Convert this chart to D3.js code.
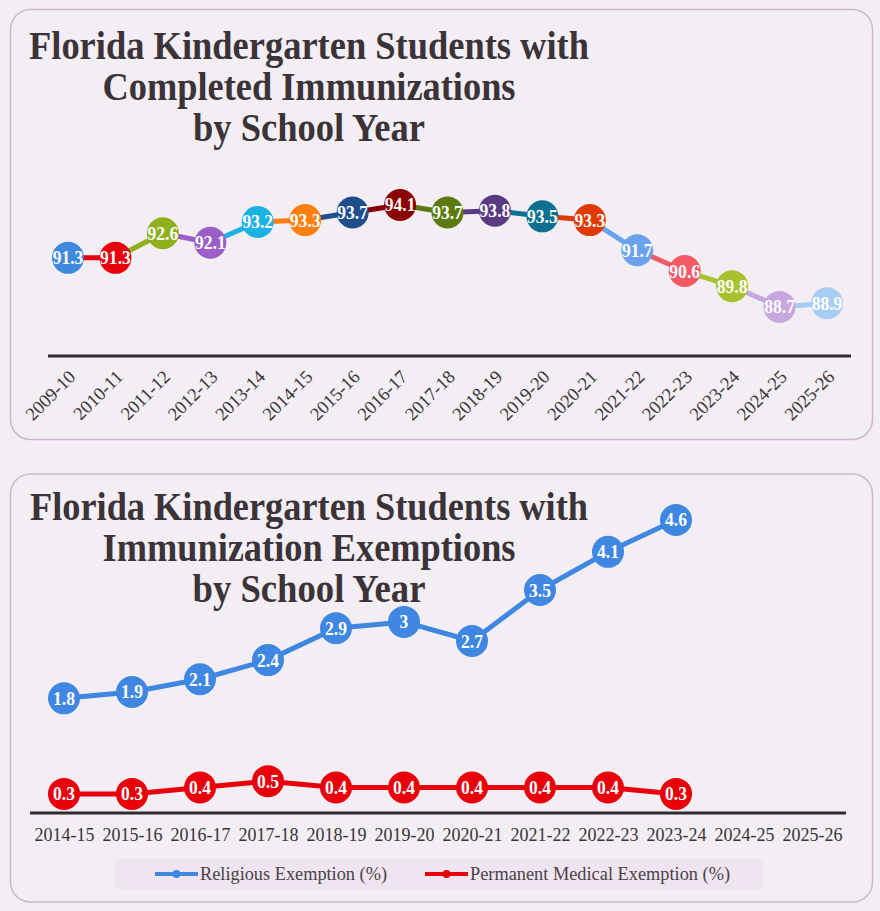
<!DOCTYPE html>
<html>
<head>
<meta charset="utf-8">
<script src="https://cdn.jsdelivr.net/npm/d3@7"></script>
<style>
  body { margin: 0; background: #f3eef3; }
  svg { display: block; }
  text { font-family: "Liberation Serif", "Times New Roman", serif; }
</style>
</head>
<body>
<div id="chart"></div>
<script>
/**********************/
/******* data         */
/**********************/

const yearsCompleted = ["2009-10", "2010-11", "2011-12", "2012-13", "2013-14", "2014-15",
    "2015-16", "2016-17", "2017-18", "2018-19", "2019-20", "2020-21", "2021-22",
    "2022-23", "2023-24", "2024-25", "2025-26"];
const completedPct = [91.3, 91.3, 92.6, 92.1, 93.2, 93.3, 93.7, 94.1, 93.7, 93.8, 93.5,
    93.3, 91.7, 90.6, 89.8, 88.7, 88.9];
const completedColors = ["#3f88e0", "#e8000b", "#8fb01c", "#9a5fc9", "#1cb2e4", "#ff7f0e",
    "#1f4e8c", "#8b0000", "#5b7a10", "#5a3a82", "#0d7090", "#e03a00", "#6aa2ec",
    "#f25a66", "#a8c22e", "#c8a6e0", "#a8cdf2"];

const yearsExempt = ["2014-15", "2015-16", "2016-17", "2017-18", "2018-19", "2019-20",
    "2020-21", "2021-22", "2022-23", "2023-24", "2024-25", "2025-26"];
const religiousPct = [1.8, 1.9, 2.1, 2.4, 2.9, 3, 2.7, 3.5, 4.1, 4.6];
const medicalPct = [0.3, 0.3, 0.4, 0.5, 0.4, 0.4, 0.4, 0.4, 0.4, 0.3];
const seriesNames = ["Religious Exemption (%)", "Permanent Medical Exemption (%)"];
const seriesColors = ["#3f87e0", "#e8000b"];

const titleTop = ["Florida Kindergarten Students with", "Completed Immunizations", "by School Year"];
const titleBottom = ["Florida Kindergarten Students with", "Immunization Exemptions", "by School Year"];

/**********************/
/******* d3           */
/**********************/

const W = 880, H = 911;
const textColor = "#3b3338";
const serif = "'Liberation Serif', 'Times New Roman', serif";

const svg = d3.select("#chart").append("svg")
    .attr("width", W)
    .attr("height", H);

svg.append("rect").attr("width", W).attr("height", H).attr("fill", "#f3eef3");

// panels
[[9.5, 430], [474, 428]].forEach(([y, h]) => {
    svg.append("rect")
        .attr("x", 10.5).attr("y", y)
        .attr("width", 862).attr("height", h)
        .attr("rx", 20)
        .attr("fill", "#f3eef4")
        .attr("stroke", "#cdb7ce")
        .attr("stroke-width", 1.5);
});

function drawTitle(lines, baseY, widths) {
    svg.append("g").selectAll("text")
        .data(lines)
        .enter()
        .append("text")
        .attr("x", 309)
        .attr("y", (d, i) => baseY + i * 41)
        .attr("text-anchor", "middle")
        .attr("textLength", (d, i) => widths[i])
        .attr("lengthAdjust", "spacingAndGlyphs")
        .style("font-family", serif)
        .style("font-size", "40px")
        .style("font-weight", "bold")
        .style("fill", textColor)
        .text(d => d);
}

drawTitle(titleTop, 59, [560, 413, 232]);
drawTitle(titleBottom, 520, [558, 413, 233]);

// compressed white labels inside circles
function pointLabels(g, data, x, y, fmt) {
    g.append("g").selectAll("text")
        .data(data)
        .enter()
        .append("text")
        .attr("transform", d => `translate(${x(d)}, ${y(d) + 6.5}) scale(0.9, 1)`)
        .attr("text-anchor", "middle")
        .style("font-family", serif)
        .style("font-size", "19.5px")
        .style("font-weight", "bold")
        .style("fill", "#fff")
        .text(fmt);
}

/******* top chart    */

function makeChartCompleted() {
    const g = svg.append("g").attr("class", "chart");
    const data = yearsCompleted.map((yr, i) => ({ yr: yr, v: completedPct[i], c: completedColors[i] }));

    const x = d3.scalePoint()
        .domain(yearsCompleted)
        .range([68, 827]);

    const y = d3.scaleLinear()
        .domain([87, 95])
        .range([339, 188]);

    g.append("line")
        .attr("x1", 48).attr("x2", 851)
        .attr("y1", 356).attr("y2", 356)
        .attr("stroke", "#2f2a2e")
        .attr("stroke-width", 3);

    const axis = g.append("g")
        .attr("transform", "translate(0, 356)")
        .call(d3.axisBottom(x).tickSize(0).tickPadding(0));
    axis.select(".domain").remove();
    axis.selectAll("text")
        .attr("text-anchor", "end")
        .attr("dy", null)
        .attr("y", 0)
        .attr("transform", "translate(8, 22) rotate(-45)")
        .style("font-family", serif)
        .style("font-size", "18.5px")
        .style("fill", textColor);

    // each segment takes the colour of the point it runs into
    g.selectAll(".seg")
        .data(data.slice(1))
        .enter()
        .append("line")
        .attr("class", "seg")
        .attr("x1", (d, i) => x(data[i].yr))
        .attr("y1", (d, i) => y(data[i].v))
        .attr("x2", d => x(d.yr))
        .attr("y2", d => y(d.v))
        .attr("stroke", d => d.c)
        .attr("stroke-width", 5);

    g.selectAll(".dot")
        .data(data)
        .enter()
        .append("circle")
        .attr("class", "dot")
        .attr("cx", d => x(d.yr))
        .attr("cy", d => y(d.v))
        .attr("r", 16)
        .attr("fill", d => d.c);

    pointLabels(g, data, d => x(d.yr), d => y(d.v), d => d.v.toFixed(1));
}

/******* bottom chart */

function makeChartExempt() {
    const g = svg.append("g").attr("class", "chart");

    const x = d3.scalePoint()
        .domain(yearsExempt)
        .range([64, 812]);

    const y = d3.scaleLinear()
        .domain([0, 5])
        .range([813, 494.5]);

    const axis = g.append("g")
        .attr("transform", "translate(0, 813)")
        .call(d3.axisBottom(x).tickSize(0).tickPadding(0));
    axis.select(".domain").remove();
    axis.selectAll("text")
        .attr("dy", null)
        .attr("y", 28)
        .style("font-family", serif)
        .style("font-size", "18px")
        .style("fill", textColor);

    g.append("line")
        .attr("x1", 30).attr("x2", 846)
        .attr("y1", 813).attr("y2", 813)
        .attr("stroke", "#2f2a2e")
        .attr("stroke-width", 3);

    const line = d3.line()
        .x(d => x(d.yr))
        .y(d => y(d.v));

    [religiousPct, medicalPct].forEach((vals, s) => {
        const data = vals.map((v, i) => ({ yr: yearsExempt[i], v: v }));
        const sg = g.append("g").attr("class", "series");
        sg.append("path")
            .datum(data)
            .attr("d", line)
            .attr("fill", "none")
            .attr("stroke", seriesColors[s])
            .attr("stroke-width", 5)
            .attr("stroke-linejoin", "round");
        sg.selectAll("circle")
            .data(data)
            .enter()
            .append("circle")
            .attr("cx", d => x(d.yr))
            .attr("cy", d => y(d.v))
            .attr("r", 16)
            .attr("fill", seriesColors[s]);
        pointLabels(sg, data, d => x(d.yr), d => y(d.v), d => String(d.v));
    });

    // legend
    const legend = g.append("g").attr("class", "legend");
    legend.append("rect")
        .attr("x", 115).attr("y", 859)
        .attr("width", 648).attr("height", 30)
        .attr("fill", "#efe5f0");

    const legendX = [155, 425];
    const item = legend.selectAll(".item")
        .data(seriesNames)
        .enter()
        .append("g")
        .attr("class", "item")
        .attr("transform", (d, i) => `translate(${legendX[i]}, 874)`);
    item.append("line")
        .attr("x1", 0).attr("x2", 43)
        .attr("stroke", (d, i) => seriesColors[i])
        .attr("stroke-width", 4);
    item.append("circle")
        .attr("cx", 21.5)
        .attr("r", 4)
        .attr("fill", (d, i) => seriesColors[i]);
    item.append("text")
        .attr("x", 45)
        .attr("y", 6)
        .attr("textLength", (d, i) => [187, 260][i])
        .attr("lengthAdjust", "spacingAndGlyphs")
        .style("font-family", serif)
        .style("font-size", "18px")
        .style("fill", "#4a4248")
        .text(d => d);
}

makeChartCompleted();
makeChartExempt();
</script>
</body>
</html>
